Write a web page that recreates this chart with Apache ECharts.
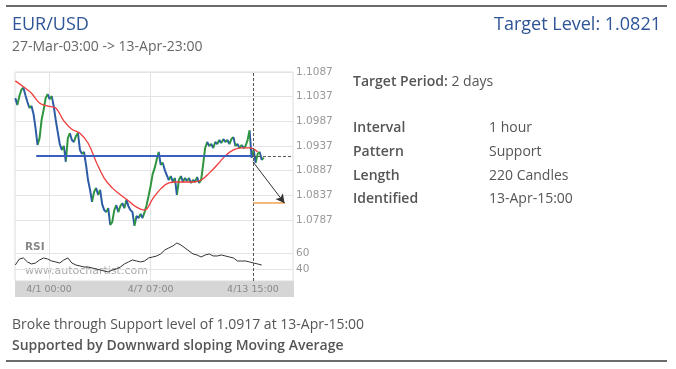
<!DOCTYPE html>
<html><head><meta charset="utf-8">
<script src="https://cdn.jsdelivr.net/npm/echarts@6/dist/echarts.min.js"></script>
<style>html,body{margin:0;padding:0;background:#fff}#c{width:676px;height:369px}</style>
</head><body><div id="c"></div>
<script>
const priceStartHour = -50;
const priceStepHours = 3;
const priceValues = [
1.1034,1.1020,1.1038,1.1051,1.1055,1.1040,1.1026,1.1014,1.1018,1.1002,
1.0973,1.0939,1.0953,1.0990,1.1010,1.1034,1.1042,1.1032,1.1038,1.1018,
1.0990,1.0965,1.0941,1.0929,1.0937,1.0905,1.0953,1.0963,1.0949,1.0945,
1.0957,1.0963,1.0929,1.0921,1.0925,1.0899,1.0868,1.0848,1.0824,1.0844,
1.0852,1.0838,1.0848,1.0819,1.0807,1.0803,1.0811,1.0777,1.0783,1.0807,
1.0817,1.0803,1.0815,1.0821,1.0811,1.0828,1.0815,1.0807,1.0803,1.0775,
1.0795,1.0791,1.0799,1.0791,1.0803,1.0817,1.0836,1.0856,1.0880,1.0892,
1.0909,1.0925,1.0899,1.0903,1.0888,1.0878,1.0868,1.0876,1.0864,1.0872,
1.0838,1.0868,1.0876,1.0864,1.0872,1.0866,1.0872,1.0862,1.0868,1.0864,
1.0874,1.0862,1.0868,1.0899,1.0933,1.0945,1.0937,1.0941,1.0933,1.0945,
1.0941,1.0949,1.0943,1.0951,1.0945,1.0949,1.0941,1.0951,1.0955,1.0937,
1.0941,1.0933,1.0939,1.0933,1.0937,1.0949,1.0969,1.0913,1.0929,1.0903,
1.0921,1.0925,1.0909,1.0913];
const maStartHour = -50;
const maStepHours = 12;
const maValues = [
1.1069,1.1057,1.1044,1.1024,1.1018,1.1014,1.0988,1.0971,1.0963,1.0943,
1.0905,1.0872,1.0852,1.0838,1.0826,1.0813,1.0807,1.0830,1.0850,1.0862,
1.0864,1.0864,1.0864,1.0868,1.0882,1.0899,1.0917,1.0929,1.0933,1.0933,1.0925];
const rsiStartHour = -50;
const rsiStepHours = 6;
const rsiValues = [
45,52.5,53.8,48.8,46.3,47.5,51.3,53.8,52.5,50,
48.8,47.5,51.3,53.8,47.5,45,43.8,42.5,42.5,41.3,
40,38.8,37.5,36.3,38.8,40,42.5,46.3,48.8,51.3,
50,48.8,50,53.8,55,56.3,58.8,63.8,66.3,68.8,
72.5,70,66.3,62.5,58.8,57.5,55,57.5,58.8,56.3,
56.3,57.5,56.3,55,53.8,50,50,50,48.8,47.5,46.3,45];
const xTickHours = [0, 151, 303];
const xTickLabels = ['4/1 00:00', '4/7 07:00', '4/13 15:00'];
const priceTicks = [1.0787, 1.0837, 1.0887, 1.0937, 1.0987, 1.1037, 1.1087];
const rsiTicks = [40, 60];
const supportLevel = 1.0917;
const supportStartHour = -19;
const identifiedHour = 303;
const breakPrice = 1.0905;
const targetLevel = 1.0821;
const targetHour = 350;
const xRange = [-50.5, 362.5];
const priceRange = [1.06633, 1.1087];
const rsiRange = [25, 286.25];

const UP = '#2e9440', DOWN = '#2d5ca6';
const priceData = priceValues.map((v, i) => [priceStartHour + i * priceStepHours, v]);
const maData = maValues.map((v, i) => [maStartHour + i * maStepHours, v]);
const rsiData = rsiValues.map((v, i) => [rsiStartHour + i * rsiStepHours, v]);
const pieces = [];
for (let i = 1; i < priceData.length; i++) {
  pieces.push({gte: priceData[i-1][0], lt: priceData[i][0], color: priceData[i][1] >= priceData[i-1][1] ? UP : DOWN});
}

const chart = echarts.init(document.getElementById('c'), null, {renderer: 'canvas'});
const F = '"Open Sans", sans-serif';
const CF = '"DejaVu Sans", sans-serif';
function txt(x, y, text, font, fill, align, extra) {
  return Object.assign({type: 'text', x: x, y: y, style: {text: text, font: font, fill: fill, textAlign: align || 'left', textVerticalAlign: 'middle'}}, extra || {});
}
chart.setOption({
  animation: false,
  backgroundColor: '#fff',
  grid: {left: 15, right: 383, top: 72, height: 209, show: true, borderColor: '#dcdcdc', borderWidth: 1},
  xAxis: {
    type: 'value', min: xRange[0], max: xRange[1],
    axisLine: {show: false},
    axisTick: {show: false, customValues: xTickHours.filter(h => h !== identifiedHour)},
    splitLine: {show: true, lineStyle: {color: '#e4e4e4', width: 1}},
    axisLabel: {customValues: xTickHours, margin: 4, color: '#888', fontFamily: CF, fontSize: 9.5,
      formatter: v => xTickLabels[xTickHours.indexOf(v)] || ''}
  },
  yAxis: [{
    type: 'value', position: 'right', min: priceRange[0], max: priceRange[1],
    axisLine: {show: false},
    axisTick: {show: false, customValues: priceTicks},
    splitLine: {show: true, lineStyle: {color: '#e4e4e4'}},
    axisLabel: {customValues: priceTicks, margin: 3, color: '#999', fontFamily: CF, fontSize: 10.5, formatter: v => v.toFixed(4)}
  }, {
    type: 'value', position: 'right', min: rsiRange[0], max: rsiRange[1],
    axisLine: {show: false},
    axisTick: {show: false, customValues: rsiTicks},
    splitLine: {show: true, lineStyle: {color: '#e4e4e4'}},
    axisLabel: {customValues: rsiTicks, margin: 3, color: '#999', fontFamily: CF, fontSize: 10.5}
  }],
  visualMap: {show: false, type: 'piecewise', seriesIndex: 0, dimension: 0, pieces: pieces, outOfRange: {color: DOWN}},
  series: [{
    type: 'line', data: priceData, showSymbol: false, symbol: 'none', lineStyle: {width: 2}, z: 3,
    markLine: {
      silent: true, symbol: ['none', 'none'], label: {show: false}, animation: false,
      data: [
        [{coord: [supportStartHour, supportLevel], lineStyle: {color: '#3b5fc0', width: 2, type: 'solid'}}, {coord: [identifiedHour, supportLevel]}],
        [{coord: [identifiedHour, supportLevel], lineStyle: {color: '#555', width: 1, type: [3, 2]}}, {coord: [xRange[1], supportLevel]}],
        {xAxis: identifiedHour, lineStyle: {color: '#555', width: 1, type: [3, 2]}},
        [{coord: [identifiedHour, targetLevel], lineStyle: {color: '#f0a050', width: 1.5, type: 'solid'}}, {coord: [targetHour, targetLevel]}],
        [{coord: [identifiedHour, breakPrice], lineStyle: {color: '#333', width: 1, type: 'solid'}}, {coord: [targetHour, targetLevel], symbol: 'arrow', symbolSize: [7, 9]}]
      ]
    }
  }, {
    type: 'line', data: maData, showSymbol: false, symbol: 'none', smooth: 0.4, lineStyle: {color: '#f03c3c', width: 1.3}, z: 4
  }, {
    type: 'line', yAxisIndex: 1, data: rsiData, showSymbol: false, symbol: 'none', lineStyle: {color: '#333', width: 1}, z: 4
  }],
  graphic: [
    {type: 'rect', shape: {x: 15, y: 281, width: 279, height: 16}, style: {fill: '#d6d6d6'}, z: -10},
    txt(25, 247, 'RSI', 'bold 10.5px ' + CF, '#888'),
    txt(25, 271, 'www.autochartist.com', '11px ' + CF, '#a8a8a8', 'left', {z: -5}),
    {type: 'line', shape: {x1: 6, y1: 6, x2: 667, y2: 6}, style: {stroke: '#6b6b6b', lineWidth: 2}},
    {type: 'line', shape: {x1: 6, y1: 361, x2: 667, y2: 361}, style: {stroke: '#6b6b6b', lineWidth: 2}},
    txt(12, 25, 'EUR/USD', '18px ' + F, '#2f5597'),
    txt(661, 25, 'Target Level: 1.0821', '18px ' + F, '#2f5597', 'right'),
    txt(12, 47, '27-Mar-03:00 -> 13-Apr-23:00', '14px ' + F, '#666'),
    {type: 'text', x: 353, y: 82, style: {text: '{b|Target Period:} 2 days', font: '14px ' + F, fill: '#555', textVerticalAlign: 'middle',
      rich: {b: {fontFamily: F, fontSize: 14, fontWeight: 600, fill: '#555'}}}},
    txt(353, 128, 'Interval', '600 14px ' + F, '#555'),
    txt(489, 128, '1 hour', '14px ' + F, '#555'),
    txt(353, 152, 'Pattern', '600 14px ' + F, '#555'),
    txt(489, 152, 'Support', '14px ' + F, '#555'),
    txt(353, 176, 'Length', '600 14px ' + F, '#555'),
    txt(489, 176, '220 Candles', '14px ' + F, '#555'),
    txt(353, 199, 'Identified', '600 14px ' + F, '#555'),
    txt(489, 199, '13-Apr-15:00', '14px ' + F, '#555'),
    txt(12, 325, 'Broke through Support level of 1.0917 at 13-Apr-15:00', '14px ' + F, '#555'),
    txt(12, 346, 'Supported by Downward sloping Moving Average', '600 14px ' + F, '#555')
  ]
});
</script></body></html>
